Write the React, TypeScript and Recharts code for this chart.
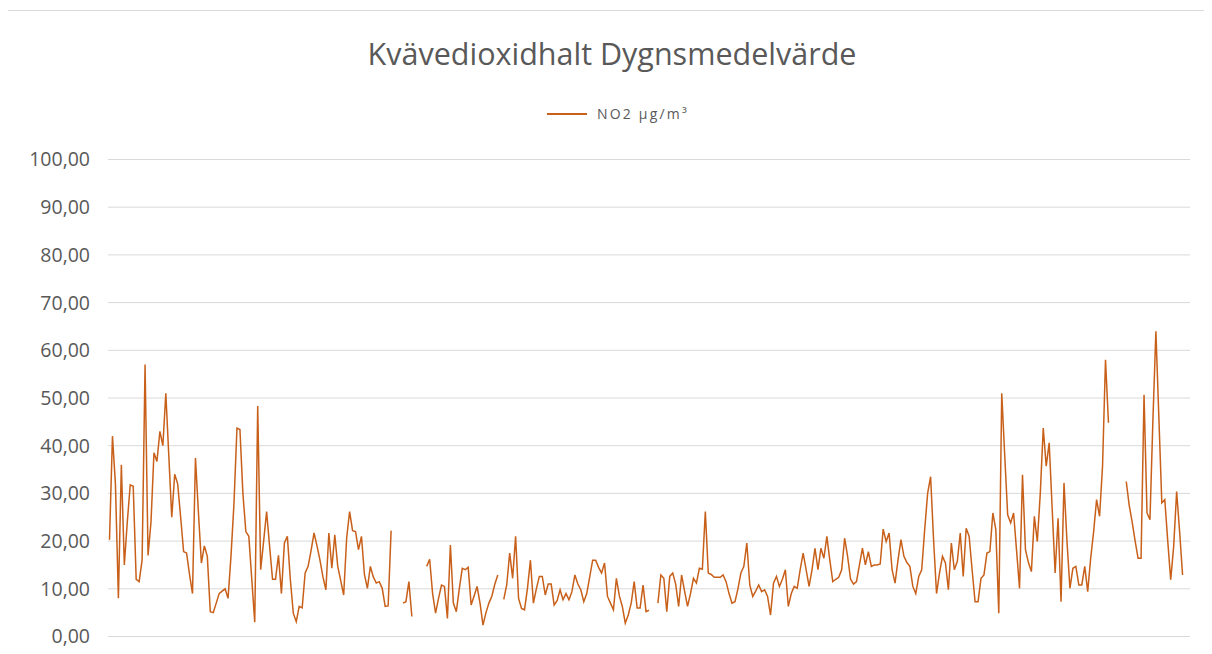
import { LineChart, Line, XAxis, YAxis, CartesianGrid } from 'recharts';

// NO2 dygnsmedelvärden per månad (µg/m³), null = saknas
const jan = [20.3, 42, 32, 8, 36, 15, 24, 31.8, 31.5, 12, 11.5, 16, 57, 17, 24, 38.5, 36.7, 43, 40, 51, 38, 25, 34, 32, 25, 17.8, 17.5, 13, 9, 37.4, 26];
const feb = [15.4, 19, 16.8, 5.2, 5, 7, 9, 9.5, 10, 8, 17, 28, 43.7, 43.4, 30, 22, 21, 12, 3, 48.3, 14, 20, 26.2, 19, 12, 12, 17, 9];
const mar = [19.6, 21, 12, 4.9, 3.1, 6.3, 6, 13.3, 14.7, 18, 21.7, 19, 16, 12.5, 9.8, 21.7, 14.3, 21.3, 14.7, 11.7, 8.7, 20.6, 26.2, 22.2, 22, 18.2, 21, 13, 10.1, 14.7, 12.5];
const apr = [11.2, 11.5, 10.1, 6.3, 6.4, 22.2, null, null, null, 7, 7.3, 11.5, 4.2, null, null, null, null, 14.7, 16.2, 9, 4.9, 8, 10.8, 10.5, 3.8, 19.2, 7, 5.2, 10, 14.3];
const may = [14, 14.5, 6.6, 8.5, 10.5, 7, 2.4, 5, 7, 8.5, 11, 12.9, null, 7.8, 10.8, 17.5, 12.2, 21, 8, 5.9, 5.6, 10.1, 16, 7, 10, 12.6, 12.6, 8.7, 11, 11, 6.6];
const jun = [7.5, 9.8, 7.7, 9, 7.7, 9.4, 12.9, 11, 9.8, 7.3, 9, 12.5, 16, 16, 14.5, 13.3, 15.4, 8.4, 7, 5.6, 12.2, 8.5, 6.3, 2.8, 4.5, 7, 11.5, 6, 6, 10.8];
const jul = [5.2, 5.5, null, null, 7, 12.9, 12.2, 5.2, 12.6, 13.3, 11, 6.3, 12.9, 9.5, 6.3, 9, 12.2, 11.2, 14.3, 14.1, 26.2, 13.3, 13, 12.4, 12.4, 12.4, 12.9, 11.5, 9, 7, 7.3];
const aug = [10, 13.3, 14.7, 19.6, 10.8, 8.4, 9.5, 10.8, 9.4, 9.8, 8.4, 4.5, 11.2, 12.6, 10.5, 12, 14, 6.3, 9, 10.5, 10.1, 14, 17.5, 14, 10.5, 14, 18.5, 14, 18.5, 16.4, 21];
const sep = [16, 11.5, 12, 12.4, 14, 20.6, 16.8, 12, 11, 11.5, 15, 18.5, 15, 17.8, 14.7, 15, 15, 15.2, 22.5, 19.9, 21.7, 14, 11.2, 16, 20.3, 16.8, 15.5, 14.7, 10.5, 9];
const oct = [12.6, 14, 22.4, 30, 33.5, 20.3, 9, 13.3, 16.8, 15.4, 9.8, 19.6, 14, 15.7, 21.7, 12.6, 22.7, 21, 14, 7.3, 7.3, 12.2, 12.9, 17.5, 17.8, 25.9, 22.4, 4.9, 51, 38, 25.5];
const nov = [23.8, 25.9, 18, 10.1, 33.9, 18.2, 15.5, 13.6, 25.2, 19.9, 30, 43.7, 35.7, 40.6, 27, 13.3, 24.8, 7.3, 32.2, 20, 10.1, 14.3, 14.7, 10.8, 10.8, 14.7, 9.4, 16.4, 22, 28.7];
const dec = [25.2, 35.7, 58, 44.8, null, null, null, null, null, 32.5, 27.5, 24, 20, 16.4, 16.4, 50.7, 25.9, 24.5, 45.5, 64, 46, 28, 28.7, 20, 11.9, 18.9, 30.4, 22, 12.9, null, null];

const months = [jan, feb, mar, apr, may, jun, jul, aug, sep, oct, nov, dec];
const yTicks = [0, 10, 20, 30, 40, 50, 60, 70, 80, 90, 100];

const data = months.flatMap((vals, m) =>
  vals.map((v, d) => ({ date: `${d + 1}/${m + 1}`, no2: v }))
);

const fmt = (v: number) => v.toFixed(2).replace('.', ',');

export default function App() {
  return (
    <div style={{ position: 'relative', width: 1196, height: 646, marginBottom: -8, overflow: 'hidden', fontFamily: '"Open Sans", sans-serif' }}>
      <div style={{ position: 'absolute', left: -1, top: 2, width: 1300, height: 800, border: '1px solid #d9d9d9', boxSizing: 'border-box' }} />
      <div style={{ position: 'absolute', top: 0, left: 0 }}>
        <LineChart width={1196} height={646} data={data} margin={{ top: 151.5, right: 14, bottom: 17.5, left: 0 }}>
          <CartesianGrid vertical={false} stroke="#d9d9d9" />
          <XAxis dataKey="date" hide padding={{ left: 1.5, right: 1.5 }} />
          <YAxis
            domain={[0, 100]}
            ticks={yTicks}
            interval={0}
            width={100}
            axisLine={false}
            tickLine={false}
            tickSize={0}
            tickMargin={18}
            tickFormatter={fmt}
            tick={{ fill: '#595959', fontSize: 19.5 }}
          />
          <Line type="linear" dataKey="no2" stroke="#c8601a" strokeWidth={1.5} dot={false} isAnimationActive={false} />
        </LineChart>
      </div>
      <div style={{ position: 'absolute', left: 604, top: 25, transform: 'translateX(-50%)', whiteSpace: 'nowrap', fontSize: 30.5, color: '#595959', lineHeight: 1.362 }}>
        Kvävedioxidhalt Dygnsmedelvärde
      </div>
      <div style={{ position: 'absolute', left: 539, top: 96, display: 'flex', alignItems: 'center', whiteSpace: 'nowrap' }}>
        <span style={{ display: 'inline-block', width: 40, height: 2, background: '#c8601a' }} />
        <span style={{ marginLeft: 10, fontSize: 14, letterSpacing: 2.2, color: '#595959' }}>NO2 µg/m³</span>
      </div>
    </div>
  );
}
